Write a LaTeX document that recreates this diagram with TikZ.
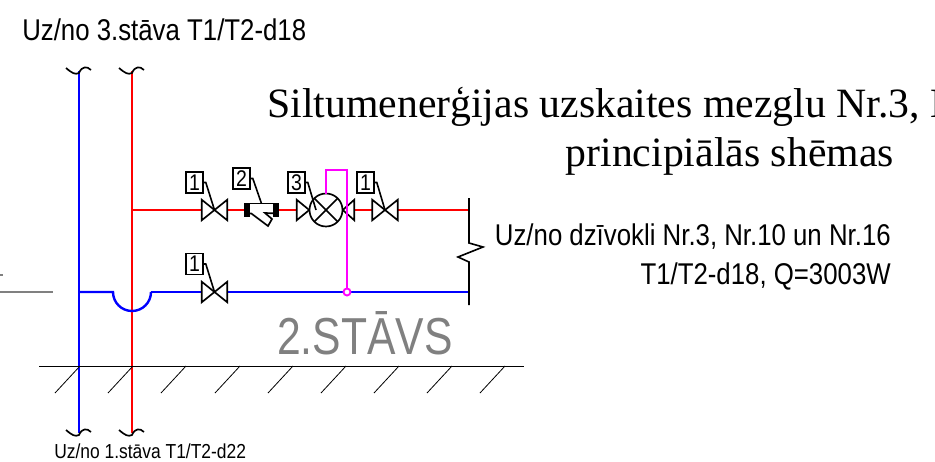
\documentclass[tikz,border=0pt]{standalone}
\usepackage{fontspec}
\setmainfont{Liberation Sans}
\newfontfamily\serifface{Liberation Serif}
\newfontfamily\narrowface[FakeStretch=0.86]{Liberation Sans}
\newfontfamily\floorface[FakeStretch=0.82]{Liberation Sans}
\usetikzlibrary{positioning}
\definecolor{pipered}{RGB}{255,0,0}
\definecolor{pipeblue}{RGB}{0,0,255}
\definecolor{pipemagenta}{RGB}{255,0,255}
\definecolor{floorgray}{RGB}{128,128,128}
\newcommand{\valvesym}[1]{
  \draw[symbol] (#1.north west) -- (#1.south east) -- (#1.north east) -- (#1.south west) -- cycle;
}
\newcommand{\breakmark}[1]{
  \draw[symbol] (#1) ++(-13,-3) .. controls +(6,5) and +(-4,2) .. ++(13,5)
    .. controls +(3,-7) and +(-4,-4) .. ++(12,-3);
}
\tikzset{
	pipeR/.style={
		draw=pipered,
		line width=1.8pt,
	},
	pipeB/.style={
		draw=pipeblue,
		line width=1.8pt,
	},
	impulse/.style={
		draw=pipemagenta,
		line width=1.8pt,
	},
	symbol/.style={
		draw=black,
		line width=1.25pt,
	},
	valve/.style={
		rectangle,
		inner sep=0pt,
		minimum width=18.75pt,
		minimum height=15pt,
	},
	posbox/.style={
		rectangle,
		draw,
		line width=1.2pt,
		fill=white,
		inner sep=0pt,
		minimum width=12.75pt,
		minimum height=15.75pt,
		font=\narrowface\fontsize{17}{17}\selectfont,
	},
	lead/.style={
		draw=black,
		line width=1.2pt,
	},
	label/.style={
		inner sep=0pt,
		font=\narrowface\fontsize{22.5}{22.5}\selectfont,
	},
	title/.style={
		inner sep=0pt,
		font=\serifface\fontsize{31.3}{31.3}\selectfont,
	},
}
\begin{document}
\begin{tikzpicture}[x=0.75pt,y=-0.75pt]
	\useasboundingbox (0,0) rectangle (935,461);
	\clip (0,0) rectangle (935,461);

	% risers
	\coordinate (bt) at (79,71);
	\coordinate (bb) at (79,433);
	\coordinate (rt) at (132,71);
	\coordinate (rb) at (132,433);
	\coordinate (bj) at (79,292);
	\coordinate (rj) at (132,210);
	\coordinate (ua) at (113,292);
	\coordinate (ub) at (151,292);
	\coordinate (re) at (469,210);
	\coordinate (be) at (469,292);

	% valves
	\node [valve] (v1) at (214.5,210) {};
	\node [valve] (v2) at (385,210) {};
	\node [valve] (v3) at (214.5,292) {};
	\node [circle,minimum size=24.75pt,inner sep=0pt] (m) at (326,210) {};
	\node [valve,minimum width=9pt,anchor=east] (vl) at (m.west) {};
	\node [valve,minimum width=8.25pt,anchor=west] (vr) at (m.east) {};
	\node [rectangle,inner sep=0pt,minimum width=24pt,minimum height=7pt] (s) at (261.5,208.5) {};

	% pipes
	\draw[pipeB] (bt) -- (bb);
	\draw[pipeR] (rt) -- (rb);
	\draw[pipeR] (rj) -- (v1);
	\draw[pipeR] (v1) -- (245,210);
	\draw[pipeR] (278,210) -- (vl);
	\draw[pipeR] (vr) -- (v2);
	\draw[pipeR] (v2) -- (re);
	\draw[pipeB] (bj) -- (ua) arc[start angle=180,end angle=360,x radius=19,y radius=-19];
	\draw[pipeB] (ub) -- (v3);
	\draw[pipeB] (v3) -- (be);

	% floor
	\draw[draw=floorgray,line width=0.8pt] (0,292) -- (53,292);
	\draw[draw=floorgray,line width=0.8pt] (0,275) -- (3,275);
	\draw[line width=0.7pt] (39,366) -- (524,366);
	\foreach \hx in {80,133,186,240,293,346,399,452,505}
		\draw[line width=0.6pt] (\hx,366) -- ++(-25,27);

	% symbols
	\valvesym{v1}
	\valvesym{v2}
	\valvesym{v3}
	\draw[symbol] (vl.north west) -- (vl.south west) -- (vl.east) -- cycle;
	\draw[symbol] (vr.north east) -- (vr.south east) -- (vr.west) -- cycle;
	\draw[symbol,fill=white] (m) circle[radius=16.5];
	\draw[symbol] (m.45) -- (m.225);
	\draw[symbol] (m.135) -- (m.315);

	% strainer
	\draw[symbol] (s.north west) -- (s.north east);
	\draw[symbol] (s.south west) -- ++(6,0) -- (268,226) -- (272,219) -- (265,213) -- (s.south east);
	\fill (244,203) rectangle (250,217);
	\fill (273,203) rectangle (279,217);

	% impulse line
	\draw[impulse] (326,194) |- (347,170) -- (347,292);
	\node [circle,draw=pipemagenta,fill=white,line width=1.4pt,minimum size=5.25pt,inner sep=0pt] (tap) at (347,292) {};

	% breaks
	\breakmark{bt}
	\breakmark{rt}
	\breakmark{bb}
	\breakmark{rb}
	\draw[line width=1.2pt] (469,198) -- (469,243) -- (483,247) -- (458,257) -- (469,262) -- (469,305);

	% position numbers
	\node [posbox] (n1) at (194.5,182.5) {1};
	\node [posbox] (n2) at (241.5,178.5) {2};
	\node [posbox] (n3) at (296.5,182.5) {3};
	\node [posbox] (n4) at (365.5,182.5) {1};
	\node [posbox] (n5) at (194.5,264) {1};
	\draw[lead] (n1.east) -- ++(2,0) -- (v1.center);
	\draw[lead] (n2.east) -- ++(2,0) -- (s.north);
	\draw[lead] (n3.east) -- ++(2,0) -- ([xshift=-7.5pt]m.center);
	\draw[lead] (n4.east) -- ++(2,0) -- (v2.center);
	\draw[lead] (n5.east) -- ++(2,0) -- (v3.center);

	% texts
	\node [label,anchor=base west] (up) at (22,40) {Uz/no 3.stāva T1/T2-d18};
	\node [label,anchor=base west,font=\narrowface\fontsize{15.2}{15.2}\selectfont] (down) at (54,458) {Uz/no 1.stāva T1/T2-d22};
	\node [label,anchor=base east] (flat) at (891,245) {Uz/no dzīvokli Nr.3, Nr.10 un Nr.16};
	\node [label,anchor=base east] (load) at (891,284) {T1/T2-d18, Q=3003W};
	\node [inner sep=0pt,anchor=base west,text=floorgray,font=\floorface\fontsize{39}{39}\selectfont] (floor) at (277,354) {2.STĀVS};
	\node [title,anchor=base west] (t1) at (267,117) {Siltumenerģijas uzskaites mezglu Nr.3, N};
	\node [title,anchor=base east] (t2) at (894,166) {principiālās shēmas};
\end{tikzpicture}
\end{document}
